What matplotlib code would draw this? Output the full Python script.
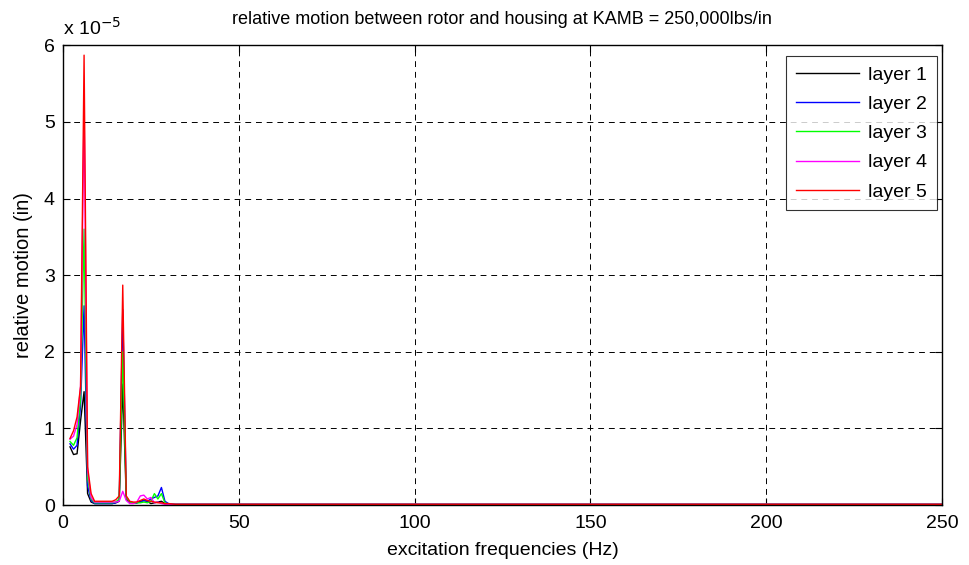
import matplotlib
matplotlib.use("Agg")
import matplotlib.pyplot as plt

plt.rcParams['font.family'] = ['Liberation Sans', 'DejaVu Sans']

# excitation frequencies (Hz)
freq = [2, 3, 4, 5, 6, 7, 8, 9, 10, 11, 12, 13, 14, 15, 16, 17, 18, 19, 20,
        21, 22, 23, 24, 25, 26, 27, 28, 29, 30, 32, 40, 60, 100, 150, 200, 250]

# relative motion per layer, in units of 1e-5 in
layer1 = [0.76, 0.66, 0.67, 1.10, 1.48, 0.15, 0.04, 0.02, 0.02, 0.02, 0.02, 0.02, 0.02, 0.03, 0.05, 1.58, 0.08, 0.03, 0.03,
          0.03, 0.05, 0.06, 0.05, 0.02, 0.03, 0.04, 0.05, 0.02, 0.01, 0.01, 0.01, 0.01, 0.01, 0.01, 0.01, 0.01]
layer2 = [0.80, 0.73, 0.78, 1.30, 2.60, 0.25, 0.06, 0.02, 0.02, 0.02, 0.02, 0.02, 0.02, 0.03, 0.06, 2.55, 0.10, 0.04, 0.03,
          0.03, 0.04, 0.06, 0.05, 0.08, 0.10, 0.12, 0.23, 0.05, 0.02, 0.01, 0.01, 0.01, 0.01, 0.01, 0.01, 0.01]
layer3 = [0.83, 0.78, 0.88, 1.40, 3.60, 0.35, 0.08, 0.03, 0.03, 0.03, 0.03, 0.03, 0.03, 0.04, 0.08, 2.00, 0.10, 0.04, 0.03,
          0.03, 0.03, 0.04, 0.03, 0.05, 0.15, 0.08, 0.15, 0.03, 0.01, 0.01, 0.01, 0.01, 0.01, 0.01, 0.01, 0.01]
layer4 = [0.86, 0.90, 1.05, 1.55, 5.20, 0.45, 0.10, 0.04, 0.04, 0.04, 0.04, 0.04, 0.04, 0.04, 0.05, 0.18, 0.06, 0.02, 0.02,
          0.04, 0.12, 0.13, 0.08, 0.10, 0.03, 0.04, 0.02, 0.01, 0.01, 0.01, 0.01, 0.01, 0.01, 0.01, 0.01, 0.01]
layer5 = [0.87, 0.97, 1.15, 1.55, 5.87, 0.50, 0.15, 0.05, 0.05, 0.05, 0.05, 0.05, 0.05, 0.07, 0.12, 2.87, 0.12, 0.05, 0.04,
          0.04, 0.06, 0.08, 0.06, 0.05, 0.04, 0.03, 0.03, 0.02, 0.02, 0.01, 0.01, 0.01, 0.01, 0.01, 0.01, 0.01]

layers = [layer1, layer2, layer3, layer4, layer5]
labels = ['layer 1', 'layer 2', 'layer 3', 'layer 4', 'layer 5']
colors = ['#000000', '#0000ff', '#00ff00', '#ff00ff', '#ff0000']

fig = plt.figure(figsize=(9.69, 5.65), dpi=100)
ax = fig.add_axes([0.065, 0.106, 0.907, 0.814])

for vals, lab, col in zip(layers, labels, colors):
    ax.plot(freq, vals, color=col, lw=1.0, label=lab)

ax.set_xlim(0, 250)
ax.set_ylim(0, 6)
ax.set_xticks([0, 50, 100, 150, 200, 250])
ax.set_yticks([0, 1, 2, 3, 4, 5, 6])
ax.grid(True, color='black', linestyle=(0, (6, 5)), lw=0.7)
ax.tick_params(direction='in', top=True, right=True, labelsize=14, length=5)
ax.tick_params(axis='x', pad=7)
ax.tick_params(axis='y', pad=6)
for s in ax.spines.values():
    s.set_linewidth(1.0)

ax.set_xlabel('excitation frequencies (Hz)', fontsize=14, labelpad=7)
ax.set_ylabel('relative motion (in)', fontsize=14.5, labelpad=8)
ax.set_title('relative motion between rotor and housing at KAMB = 250,000lbs/in', fontsize=13, pad=15)
ax.text(0.0, 1.015, r'x 10$^{-5}$', transform=ax.transAxes, fontsize=14, ha='left', va='bottom')

leg = ax.legend(loc='upper right', fontsize=14, frameon=True, fancybox=False,
                edgecolor='black', borderpad=0.5, labelspacing=0.6, handlelength=3.25,
                handletextpad=0.45, borderaxespad=0.0, bbox_to_anchor=(0.9943, 0.976))
leg.get_frame().set_linewidth(0.8)

fig.savefig('out.png', dpi=100, facecolor='white')
